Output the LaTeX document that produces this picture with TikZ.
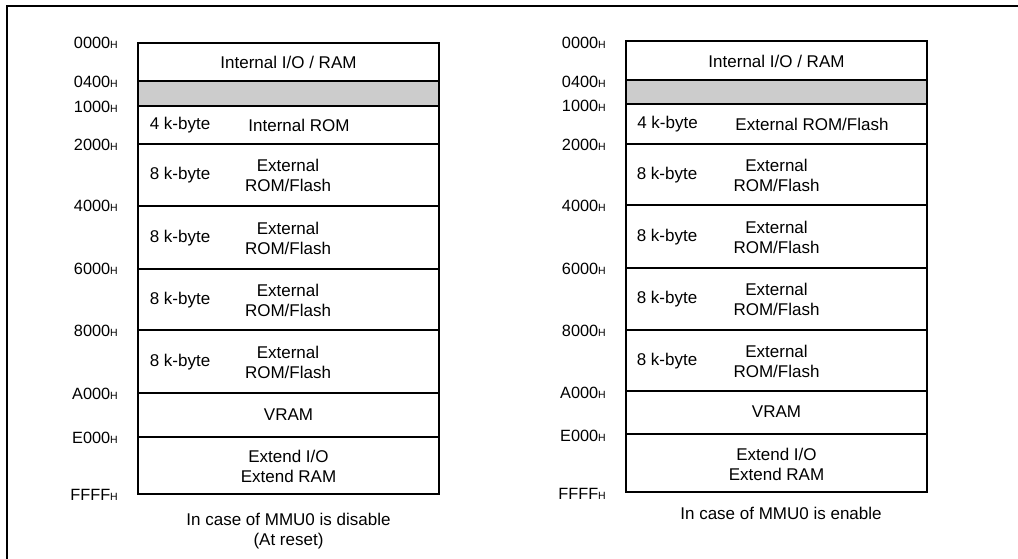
\documentclass[tikz,border=0pt]{standalone}
\usepackage{fontspec}
\setmainfont{Liberation Sans}
\definecolor{bandgray}{RGB}{204,204,204}
\newcommand\hsub{{\fontsize{10.5}{11}\selectfont H}}
\begin{document}
\begin{tikzpicture}[x=1pt,y=-1pt,
  cell/.style={draw, line width=1.8pt, minimum width=301pt, inner sep=0pt, outer sep=0pt},
  txt/.style={inner sep=0pt, align=center, font=\fontsize{17}{20}\selectfont},
  lbl/.style={anchor=east, inner sep=0pt, font=\fontsize{16.3}{18}\selectfont},
  frame/.style={line width=1.5pt}]
\useasboundingbox (0,0) rectangle (1018,559);
% frame
\coordinate (f1) at (1018,6);
\coordinate (f2) at (7,6);
\coordinate (f3) at (7,559);
\draw[frame] (f1) -- (f2) -- (f3);
% left map
\foreach \n/\a/\b in {La/43/81, Lb/81/106, Lc/106/144, Ld/144/206, Le/206/269, Lf/269/330, Lg/330/393, Lh/393/437, Li/437/494}
  \node[cell, minimum height={\b-\a}] (\n) at (288.5,{(\a+\b)/2}) {};
\fill[bandgray] ([xshift=0.9pt,yshift=-0.9pt]Lb.north west) rectangle ([xshift=-0.9pt,yshift=0.9pt]Lb.south east);
% right map
\foreach \n/\a/\b in {Ra/41/80, Rb/80/104, Rc/104/144, Rd/144/205, Re/205/268, Rf/268/330, Rg/330/391, Rh/391/434, Ri/434/492}
  \node[cell, minimum height={\b-\a}] (\n) at (776.5,{(\a+\b)/2}) {};
\fill[bandgray] ([xshift=0.9pt,yshift=-0.9pt]Rb.north west) rectangle ([xshift=-0.9pt,yshift=0.9pt]Rb.south east);
% left texts
\node[txt] (La-t) at (288.5,62) {Internal I/O / RAM};
\node[txt] (Lc-k) at (180,125) {4 k-byte};
\node[txt] (Lc-t) at (299,125) {Internal ROM};
\foreach \n/\y in {Ld/175, Le/238, Lf/300, Lg/362} {
  \node[txt] (\n-k) at (180,\y) {8 k-byte};
  \node[txt] (\n-t) at (288,\y) {External\\ROM/Flash};
}
\node[txt] (Lh-t) at (288.5,415) {VRAM};
\node[txt] (Li-t) at (288.5,466) {Extend I/O\\Extend RAM};
\node[txt] (Lcap) at (288.5,531) {In case of MMU0 is disable\\(At reset)};
% right texts
\node[txt] (Ra-t) at (776.5,61) {Internal I/O / RAM};
\node[txt] (Rc-k) at (667.5,124) {4 k-byte};
\node[txt] (Rc-t) at (812,124) {External ROM/Flash};
\foreach \n/\y in {Rd/175, Re/237, Rf/299, Rg/361} {
  \node[txt] (\n-k) at (667,\y) {8 k-byte};
  \node[txt] (\n-t) at (776.5,\y) {External\\ROM/Flash};
}
\node[txt] (Rh-t) at (776.5,412) {VRAM};
\node[txt] (Ri-t) at (776.5,464) {Extend I/O\\Extend RAM};
\node[txt] (Rcap) at (781,513) {In case of MMU0 is enable};
% left address labels
\foreach \n/\y/\t in {L0/43/0000, L1/82/0400, L2/107/1000, L3/145/2000, L4/206/4000, L5/269/6000, L6/331/8000, L7/394/A000, L8/438/E000, L9/495/FFFF}
  \node[lbl] (\n) at (118,\y) {\t\hsub};
% right address labels
\foreach \n/\y/\t in {R0/43/0000, R1/82/0400, R2/106/1000, R3/145/2000, R4/206/4000, R5/269/6000, R6/331/8000, R7/393/A000, R8/436/E000, R9/494/FFFF}
  \node[lbl] (\n) at (606,\y) {\t\hsub};
\end{tikzpicture}
\end{document}
